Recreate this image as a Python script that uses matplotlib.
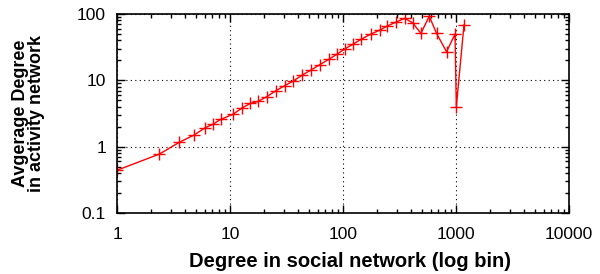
import numpy as np
import matplotlib
matplotlib.use('Agg')
import matplotlib.pyplot as plt
from matplotlib.ticker import LogLocator, FixedLocator, FixedFormatter, NullFormatter

# degree in social network (log bins) and average degree in activity network
social_degree = [1.0, 2.37, 3.56, 4.8, 5.97, 7.1, 8.27, 10.6, 12.9, 15.2, 17.7,
                 21.1, 25.5, 30.5, 36.3, 43.4, 52.6, 62.5, 75.0, 88.5, 104,
                 123, 146, 176, 212, 246, 298, 353, 414, 491, 581, 675, 827,
                 983, 1010, 1180]
avg_degree = [0.44, 0.77, 1.16, 1.49, 1.9, 2.18, 2.57, 3.06, 3.85, 4.49, 4.8,
              5.64, 6.95, 8.27, 9.73, 11.9, 14.4, 17.2, 20.7, 24.7, 29.7,
              35.1, 41.8, 49.5, 57.0, 65.6, 76.0, 86.0, 73.6, 51.0, 92.7,
              51.0, 26.9, 49.8, 3.98, 68.2]

x_ticks = [1, 10, 100, 1000, 10000]
x_tick_labels = ['1', '10', '100', '1000', '10000']
y_ticks = [0.1, 1, 10, 100]
y_tick_labels = ['0.1', '1', '10', '100']

plt.rcParams['font.family'] = ['Liberation Sans', 'DejaVu Sans']

fig = plt.figure(figsize=(6, 2.74), dpi=100)
ax = fig.add_axes([0.195, 0.223, 0.753, 0.726])

ax.plot(social_degree, avg_degree, color='red', lw=1.0, marker='+',
        markersize=8, markeredgewidth=1.0)

ax.set_xscale('log')
ax.set_yscale('log')
ax.set_xlim(1, 10000)
ax.set_ylim(0.1, 100)

ax.xaxis.set_major_locator(FixedLocator(x_ticks))
ax.xaxis.set_major_formatter(FixedFormatter(x_tick_labels))
ax.yaxis.set_major_locator(FixedLocator(y_ticks))
ax.yaxis.set_major_formatter(FixedFormatter(y_tick_labels))
ax.xaxis.set_minor_locator(LogLocator(base=10, subs=np.arange(2, 10)))
ax.yaxis.set_minor_locator(LogLocator(base=10, subs=np.arange(2, 10)))
ax.xaxis.set_minor_formatter(NullFormatter())
ax.yaxis.set_minor_formatter(NullFormatter())

ax.tick_params(which='both', direction='in', top=True, right=True,
               labelsize=12.5)
ax.tick_params(axis='x', pad=10)
ax.tick_params(axis='y', pad=8)
ax.tick_params(which='major', length=6, width=1)
ax.tick_params(which='minor', length=3, width=1)

ax.grid(True, which='major', color='black', linestyle=(0, (1, 3)), lw=0.8)
for s in ax.spines.values():
    s.set_linewidth(1.2)

ax.set_xlabel('Degree in social network (log bin)', fontsize=14.5,
              fontweight='bold')
ax.xaxis.set_label_coords(0.515, -0.195)
ax.set_ylabel('Avgerage Degree\nin activity network', fontsize=13,
              fontweight='bold', linespacing=0.9)
ax.yaxis.set_label_coords(-0.16, 0.5)

plt.savefig('out.png', dpi=100)
